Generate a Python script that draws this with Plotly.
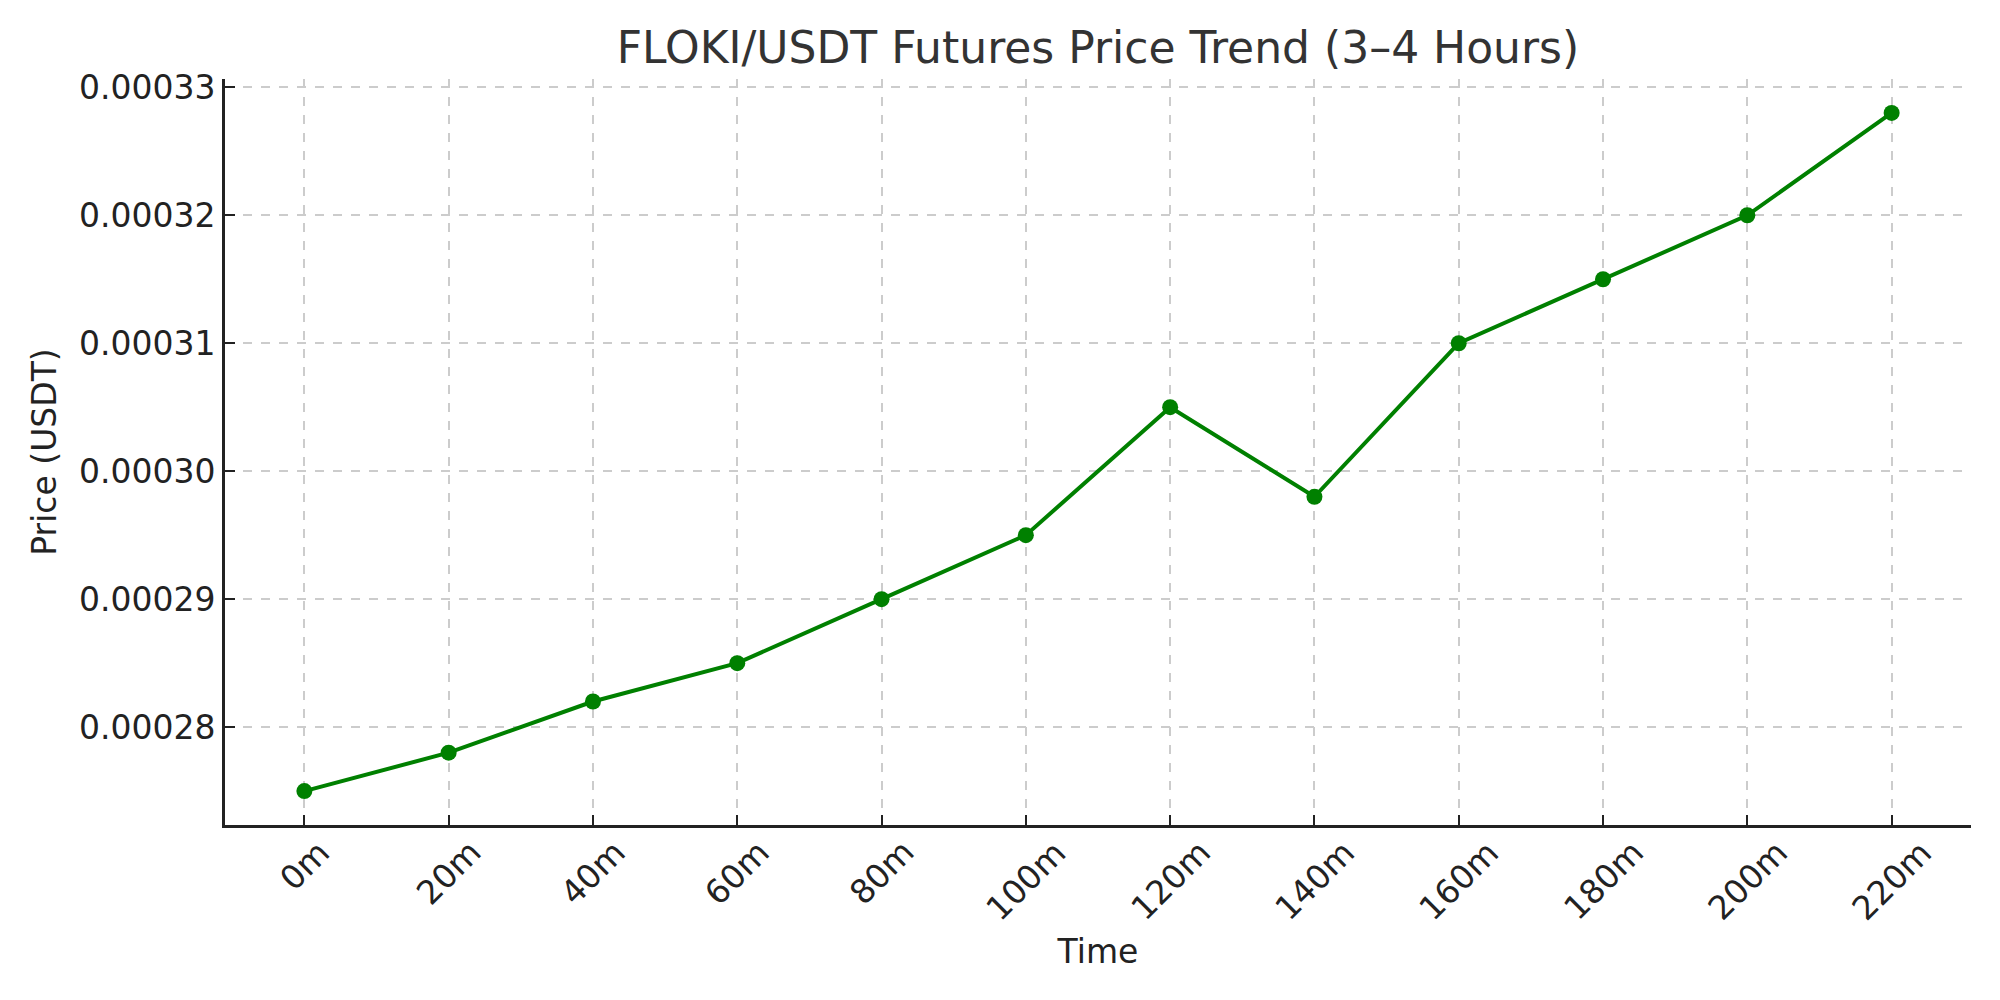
import plotly.graph_objects as go

time_labels = ["0m", "20m", "40m", "60m", "80m", "100m", "120m", "140m", "160m", "180m", "200m", "220m"]
prices = [0.000275, 0.000278, 0.000282, 0.000285, 0.000290, 0.000295,
          0.000305, 0.000298, 0.000310, 0.000315, 0.000320, 0.000328]
y_ticks = [0.00028, 0.00029, 0.00030, 0.00031, 0.00032, 0.00033]

FONT = "DejaVu Sans"
TXT = "#222222"
OFF = 8  # page body margin offset

x_idx = list(range(len(time_labels)))
span = max(prices) - min(prices)
y_lo = min(prices) - 0.05 * span
y_hi = max(prices) + 0.05 * span
n = len(time_labels) - 1

fig = go.Figure()
fig.add_trace(go.Scatter(
    x=x_idx, y=prices, mode="lines+markers",
    line=dict(color="#008000", width=4),
    marker=dict(color="#008000", size=16),
    showlegend=False,
))

# rotated x tick labels, centred under each tick (matplotlib style)
for xi, lab in zip(x_idx, time_labels):
    fig.add_annotation(
        x=xi, xref="x", y=0, yref="paper",
        text=lab, showarrow=False, textangle=-45,
        xanchor="center", yanchor="top", yshift=-5,
        font=dict(size=33, color=TXT, family=FONT),
    )

fig.update_layout(
    width=2000, height=1000,
    margin=dict(l=225 - OFF, r=29 + OFF, t=79 - OFF, b=175 + OFF),
    paper_bgcolor="white", plot_bgcolor="white",
    font=dict(family=FONT, color=TXT, size=33),
    title=dict(text="FLOKI/USDT Futures Price Trend (3–4 Hours)",
               x=0.5, xref="paper", xanchor="center",
               y=1 - (48 - OFF) / 1000, yref="container", yanchor="middle",
               font=dict(size=44, color="#333333", family=FONT)),
)

fig.update_xaxes(
    range=[-0.05 * n, n + 0.05 * n],
    tickmode="array", tickvals=x_idx, showticklabels=False,
    ticks="inside", ticklen=10, tickwidth=2, tickcolor=TXT,
    showline=True, linecolor=TXT, linewidth=3, mirror=False,
    showgrid=True, gridcolor="#cccccc", griddash="dash", gridwidth=2,
    zeroline=False,
    title=dict(text="Time", font=dict(size=33, color=TXT, family=FONT), standoff=113),
    automargin=False,
)
fig.update_yaxes(
    range=[y_lo, y_hi],
    tickmode="array", tickvals=y_ticks, ticktext=[f"{v:.5f}" for v in y_ticks],
    ticks="inside", ticklen=10, tickwidth=2, tickcolor=TXT,
    showline=True, linecolor=TXT, linewidth=3, mirror=False,
    showgrid=True, gridcolor="#cccccc", griddash="dash", gridwidth=2,
    zeroline=False,
    tickfont=dict(size=33, color=TXT, family=FONT),
    title=dict(text="Price (USDT)", font=dict(size=33, color=TXT, family=FONT), standoff=13),
    automargin=False,
)

fig.write_html("out.html")
